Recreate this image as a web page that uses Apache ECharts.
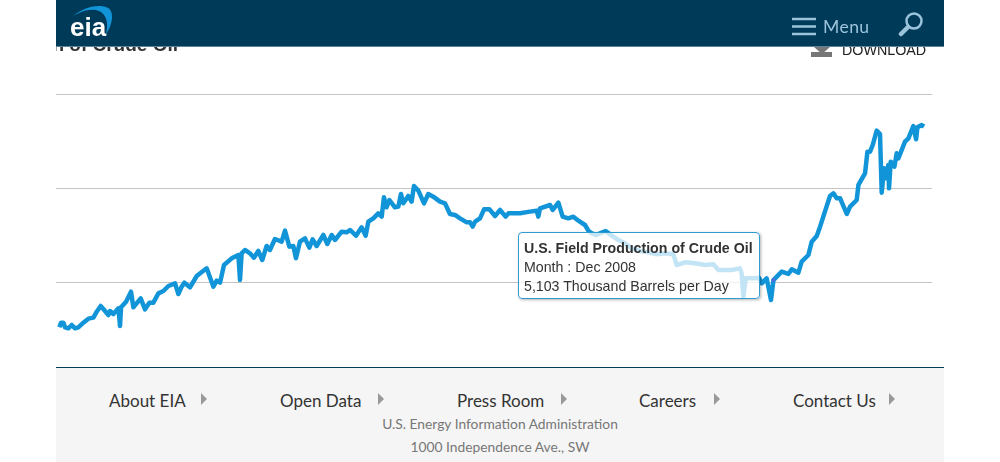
<!DOCTYPE html>
<html>
<head>
<meta charset="utf-8">
<title>U.S. Field Production of Crude Oil</title>
<script src="https://cdn.jsdelivr.net/npm/echarts@6/dist/echarts.min.js"></script>
<style>
	html, body { margin: 0; padding: 0; background: #fff; overflow: hidden; }
	#page { position: relative; width: 1000px; height: 462px; overflow: hidden; }
	#chart { position: absolute; left: 0; top: 0; width: 1000px; height: 462px; }
	.title { position: absolute; left: 56px; top: 34px; width: 122px; height: 20px; overflow: hidden; font: bold 19px "Liberation Sans", Arial, sans-serif; color: #333; white-space: nowrap; direction: rtl; }
	.download { position: absolute; left: 842px; top: 42px; font: 14.3px "Liberation Sans", Arial, sans-serif; color: #222; }
	.download-icon { position: absolute; left: 811px; top: 40px; }
	.header { position: absolute; left: 56px; top: 0; width: 888px; height: 46px; background: #003a59; border-bottom: 1px solid #5d8299; }
	.logo { position: absolute; left: 0; top: 0; }
	.menu { position: absolute; left: 767px; top: 16px; font: 17.6px Lato, sans-serif; color: #9cc3dc; letter-spacing: 0.4px; }
	.footer { position: absolute; left: 56px; top: 367px; width: 888px; height: 95px; background: #f5f5f5; border-top: 1px solid #003a59; box-sizing: border-box; font-family: Lato, sans-serif; }
	.link { position: absolute; top: 22px; font-size: 17px; color: #333; white-space: nowrap; }
	.arrow { position: absolute; top: 25px; width: 0; height: 0; border-top: 6px solid transparent; border-bottom: 6px solid transparent; border-left: 6px solid #999; }
	.addr { position: absolute; left: 0; width: 888px; text-align: center; font-size: 13.8px; color: #777; }
</style>
</head>
<body>
<div id="page">
	<div id="chart"></div>
	<div class="title">U.S. Field Production of Crude Oil</div>
	<div class="download">DOWNLOAD</div>
	<svg class="download-icon" width="22" height="18"><path d="M6 0h10v7h-10z M3 7h16l-8 7z" fill="#777"/><rect x="0" y="12" width="21" height="5" fill="#777"/></svg>
	<div class="header">
		<svg class="logo" width="140" height="46">
			<path d="M16 17 C26 8 42 3 52 8 C59 12 56 26 50 34 C53 22 50 14 43 11 C35 8 25 11 16 17 Z" fill="#1295d8"/>
			<text x="14" y="36" font-family="Liberation Sans, Arial" font-weight="bold" font-size="26" fill="#fff">eia</text>
		</svg>
		<svg style="position:absolute;left:735px;top:17px" width="26" height="20"><path d="M1 2h24M1 9.500h24M1 17h24" stroke="#9cc3dc" stroke-width="2.500"/></svg>
		<div class="menu">Menu</div>
		<svg style="position:absolute;left:842px;top:11px" width="26" height="26"><circle cx="16" cy="10" r="7.500" fill="none" stroke="#9cc3dc" stroke-width="2.500"/><path d="M10 16L3 23" stroke="#9cc3dc" stroke-width="4.500" stroke-linecap="round"/></svg>
	</div>
	<div class="footer">
		<div class="link" style="left:53px">About EIA</div><div class="arrow" style="left:145px"></div>
		<div class="link" style="left:224px">Open Data</div><div class="arrow" style="left:322px"></div>
		<div class="link" style="left:401px">Press Room</div><div class="arrow" style="left:505px"></div>
		<div class="link" style="left:583px">Careers</div><div class="arrow" style="left:658px"></div>
		<div class="link" style="left:737px">Contact Us</div><div class="arrow" style="left:833px"></div>
		<div class="addr" style="top:47px">U.S. Energy Information Administration</div>
		<div class="addr" style="top:70px">1000 Independence Ave., SW</div>
	</div>
</div>
<script>
	// decimal year / thousand barrels per day
	const years = [
		1933.56, 1933.73, 1933.98, 1934.15, 1934.5, 1934.86, 1935.21, 1935.56, 1936.09, 1936.62,
		1937.15, 1937.5, 1937.92, 1938.38, 1938.73, 1938.91, 1939.26, 1939.79, 1939.96, 1940.07,
		1940.6, 1941.12, 1941.37, 1942.14, 1942.6, 1943.06, 1943.48, 1944.01, 1944.54, 1945.07,
		1945.77, 1946.12, 1946.47, 1946.76, 1947.35, 1948.06, 1949.11, 1949.82, 1950.17, 1950.52,
		1950.94, 1951.75, 1952.46, 1952.63, 1952.8, 1953.15, 1953.68, 1953.86, 1954.1, 1954.56,
		1954.98, 1955.44, 1955.79, 1956.32, 1957.03, 1957.38, 1957.84, 1958.26, 1958.54, 1958.96,
		1959.49, 1959.95, 1960.3, 1960.72, 1961.43, 1961.85, 1962.31, 1962.66, 1963.36, 1963.89,
		1964.24, 1964.88, 1965.47, 1965.9, 1966.18, 1966.71, 1967.23, 1967.59, 1967.83, 1968.11,
		1968.4, 1968.99, 1969.35, 1969.63, 1969.87, 1970.4, 1970.75, 1971.0, 1971.46, 1972.06,
		1972.51, 1973.04,
		1973.75, 1974.28, 1974.8, 1975.33, 1975.86, 1976.57, 1976.92, 1977.2, 1977.45, 1977.97,
		1978.4, 1978.96, 1979.56, 1980.09, 1980.68, 1980.97, 1982.2, 1983.25, 1983.96, 1984.13,
		1984.31, 1985.37, 1985.65, 1986.25, 1986.7, 1987.3, 1987.83, 1988.36, 1989.06, 1989.41,
		1989.76, 1990.29, 1990.64, 1991.24, 1991.88, 1992.58, 1993.28, 1993.99, 1994.87, 1995.75,
		1996.63, 1997.51, 1998.39, 1998.74, 1999.62, 2000.68, 2001.73, 2002.61, 2003.14, 2004.55,
		2005.43, 2005.6, 2005.78, 2006.03, 2007.01, 2007.43, 2007.72, 2008.24, 2008.7,
		2008.96, 2009.83, 2010.53, 2010.89, 2011.59, 2011.94,
		2012.65, 2013.0, 2013.53, 2013.88, 2014.93, 2015.29, 2015.64, 2016.0, 2016.7, 2017.05,
		2017.75, 2017.93, 2018.63, 2018.88, 2019.16, 2019.44, 2019.86, 2020.21, 2020.39, 2020.64,
		2020.85, 2021.09, 2021.16, 2021.34, 2021.73, 2021.97, 2022.15, 2022.85, 2023.21, 2023.73,
		2024.02, 2024.16, 2024.61, 2024.86
	]
	const production = [
		2589, 2837, 2837, 2589, 2536, 2713, 2536, 2589, 2837, 3050,
		3103, 3422, 3724, 3458, 3245, 3458, 3298, 3599, 2660, 3652,
		3954, 4486, 3652, 4131, 3546, 3901, 3901, 4397, 4521, 4787,
		4929, 4362, 4752, 4965, 4716, 5319, 5727, 4752, 5071, 4965,
		5904, 6259, 6436, 5107, 6525, 6703, 6525, 6614, 6295, 6650,
		6171, 6916, 6703, 7288, 7146, 7731, 6880, 6916, 6260, 7146,
		7323, 6827, 7270, 6916, 7501, 7022, 7501, 7235, 7678, 7642,
		7767, 7465, 7908, 7465, 8210, 8387, 8653, 8476, 9504, 8972,
		9362, 8972, 9008, 9681, 9185, 9575, 9274, 10107, 9859, 9185,
		9681, 9540,
		9273, 9185, 8617, 8564, 8387, 8174, 8174, 7944, 8210, 8387,
		8866, 8866, 8511, 8830, 8476, 8653, 8653, 8742, 8795, 8476,
		8919, 9096, 8830, 9220, 8476, 8387, 8476, 8263, 8032, 7731,
		7590, 7500, 7589, 7713, 7465, 7234, 7057, 6791, 6649, 6578,
		6472, 6525, 6472, 5904, 6046, 5993, 5904, 5940, 5638, 5638,
		5727, 5461, 4220, 5195, 5195, 5230, 4929, 5195, 4044,
		5103, 5551, 5427, 5675, 5498, 6083,
		6437, 7147, 7448, 7945, 9576, 9718, 9452, 9452, 8618, 9008,
		9363, 10161, 10781, 11934, 11934, 12288, 13051, 12873, 9753, 11047,
		10515, 11224, 9983, 11402, 11136, 11845, 11579, 12466, 12643, 13299,
		12590, 13228, 13352, 13264
	]
	const seriesName = 'U.S. Field Production of Crude Oil'
	const activeMonth = 'Dec 2008'
	const activeIndex = years.indexOf(2008.96)

	const chart = echarts.init(document.getElementById('chart'), null, { renderer: 'canvas' })

	chart.setOption({
		animation: false,
		grid: { left: 56, right: 68, top: 94, bottom: 86 },
		xAxis: {
			type: 'value',
			show: false,
			min: 1933.2,
			max: 2025.7
		},
		yAxis: {
			type: 'value',
			min: 0,
			max: 15000,
			interval: 5000,
			axisLine: { show: false },
			axisTick: { show: false },
			axisLabel: { show: false },
			splitLine: { lineStyle: { color: '#c4c4c4', width: 1.2 } }
		},
		tooltip: {
			trigger: 'axis',
			axisPointer: { type: 'none' },
			alwaysShowContent: true,
			transitionDuration: 0,
			position: [518, 232],
			padding: [6, 5, 5, 5],
			borderWidth: 1.5,
			borderRadius: 4,
			backgroundColor: 'rgba(255,255,255,0.75)',
			extraCssText: 'border-color: #2f9ccf !important; box-shadow: 1px 1px 3px rgba(0,0,0,0.3); width: 230px; height: 54px; box-sizing: content-box;',
			textStyle: { fontFamily: 'Liberation Sans, Arial, sans-serif', fontSize: 14.2, color: '#333' },
			formatter: (params) => {
				const v = params[0].value[1].toLocaleString('en-US')
				return '<div style="line-height:19px;white-space:nowrap"><b>' + seriesName + '</b><br>Month : ' + activeMonth + '<br>' + v + ' Thousand Barrels per Day</div>'
			}
		},
		series: [{
			name: seriesName,
			type: 'line',
			showSymbol: false,
			symbolSize: 0,
			lineStyle: { color: '#1295d8', width: 4.5, join: 'round' },
			emphasis: { disabled: true },
			data: years.map((y, i) => [y, production[i]])
		}]
	})

	chart.dispatchAction({ type: 'showTip', seriesIndex: 0, dataIndex: activeIndex })
</script>
</body>
</html>
